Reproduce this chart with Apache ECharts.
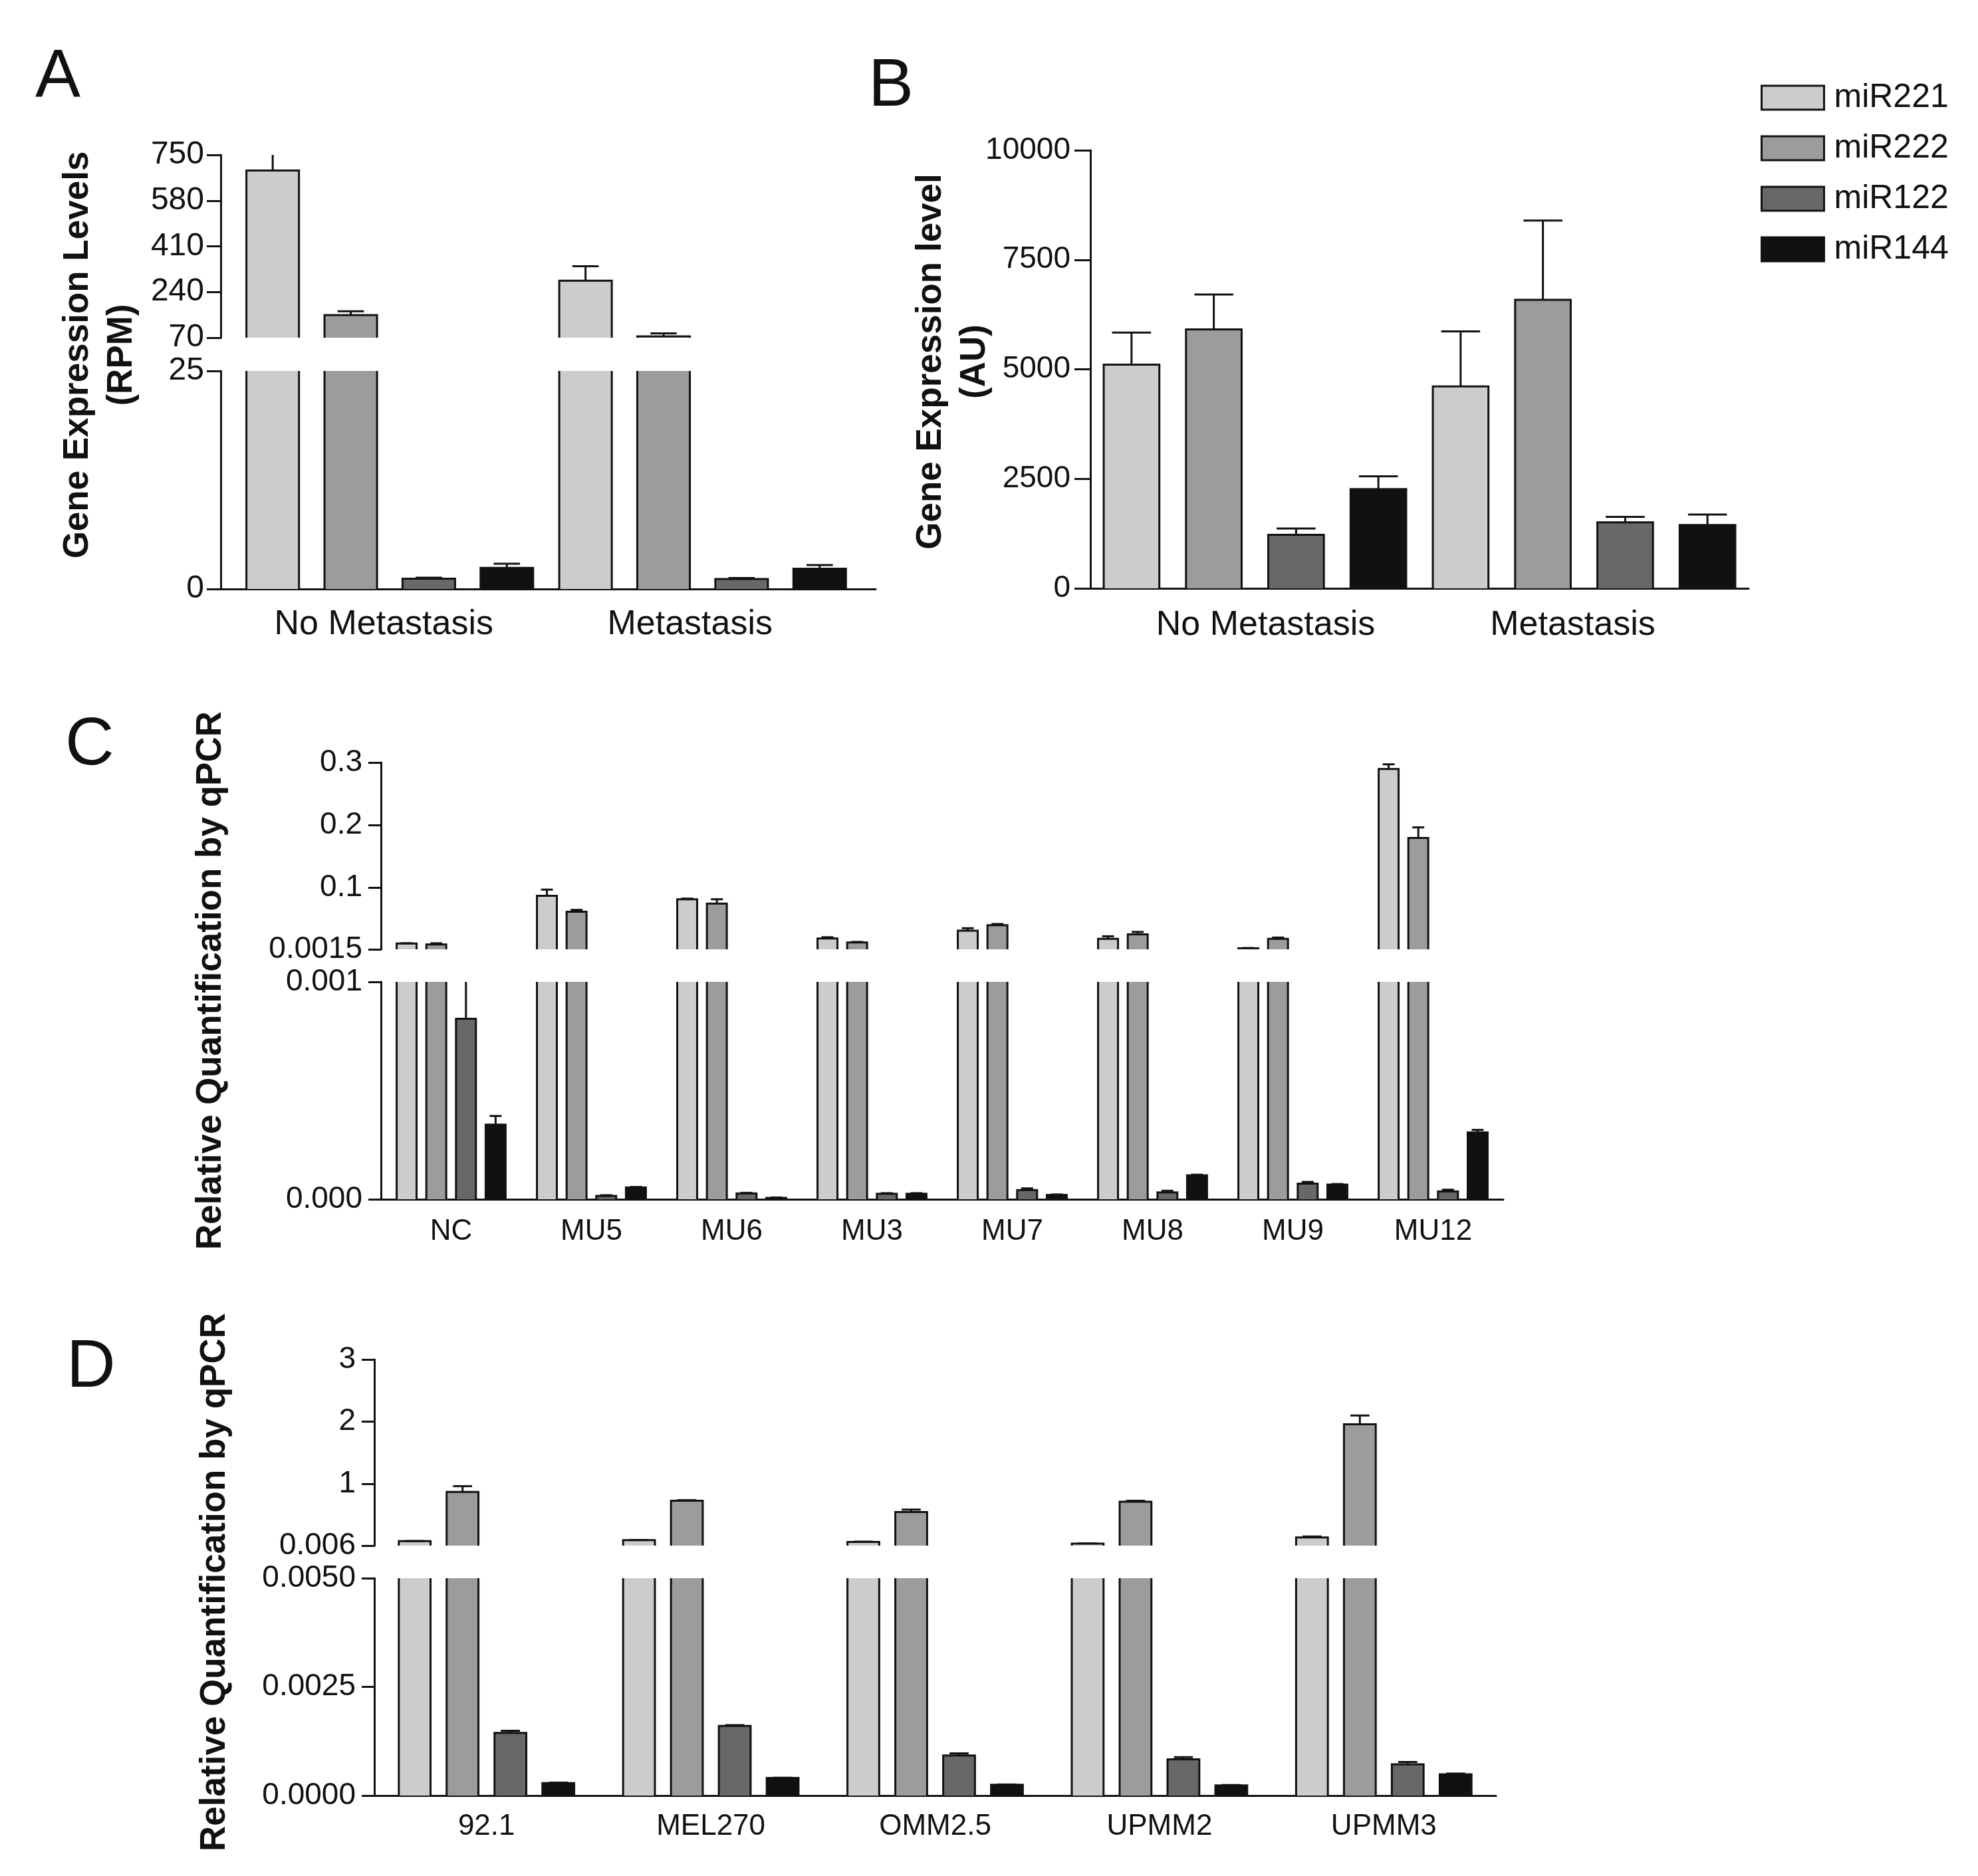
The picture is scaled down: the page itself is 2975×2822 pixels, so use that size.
<!DOCTYPE html>
<html>
<head>
<meta charset="utf-8">
<title>miR221 / miR222 / miR122 / miR144 expression</title>
<script src="https://cdn.jsdelivr.net/npm/echarts@6/dist/echarts.min.js"></script>
<style>
  html, body { margin: 0; padding: 0; background: #fff; }
  #chart { width: 2975px; height: 2822px; }
</style>
</head>
<body>
<div id="chart"></div>
<script>
// series names and fills
const names = ['miR221', 'miR222', 'miR122', 'miR144'];
const colors = ['#cccccc', '#9b9d9c', '#686868', '#111111'];

// categories
const catsA = ['No Metastasis', 'Metastasis'];
const catsB = ['No Metastasis', 'Metastasis'];
const catsC = ['NC', 'MU5', 'MU6', 'MU3', 'MU7', 'MU8', 'MU9', 'MU12'];
const catsD = ['92.1', 'MEL270', 'OMM2.5', 'UPMM2', 'UPMM3'];

// means and error (one row per miRNA, same order as names)
const meanA = [[692, 282], [154, 75], [1.19, 1.15], [2.42, 2.32]];
const errA = [[68, 54], [14, 11], [0.1, 0.1], [0.48, 0.43]];

const meanB = [[5107, 4608], [5909, 6586], [1221, 1506], [2264, 1444]];
const errB = [[730, 1257], [800, 1810], [143, 125], [294, 240]];

const meanC = [
  [0.0107, 0.0869, 0.0815, 0.0188, 0.0312, 0.0183, 0.0031, 0.2896],
  [0.0091, 0.0615, 0.0745, 0.0123, 0.0399, 0.0253, 0.0183, 0.1793],
  [0.00083, 0.0000156, 0.0000265, 0.000025, 0.000042, 0.000031, 0.0000717, 0.0000358],
  [0.000343, 0.0000545, 0.0000062, 0.000025, 0.00002, 0.00011, 0.000067, 0.000307]
];
const errC = [
  [0.0005, 0.010, 0.001, 0.002, 0.004, 0.004, 0.0005, 0.0075],
  [0.002, 0.003, 0.007, 0.001, 0.002, 0.004, 0.002, 0.017],
  [0.0004, 0.000003, 0.000003, 0.000003, 0.000008, 0.000008, 0.000008, 0.000008],
  [0.00004, 0.000002, 0.000002, 0.000003, 0.000002, 0.000003, 0.000003, 0.000012]
];

const meanD = [
  [0.077, 0.093, 0.066, 0.039, 0.137],
  [0.869, 0.727, 0.547, 0.711, 1.957],
  [0.00144, 0.0016, 0.00092, 0.000833, 0.000717],
  [0.000288, 0.000405, 0.00025, 0.000234, 0.00049]
];
const errD = [
  [0.003, 0.003, 0.004, 0.002, 0.016],
  [0.093, 0.01, 0.038, 0.016, 0.142],
  [0.00005, 0.00002, 0.00005, 0.00005, 0.000055],
  [0.00001, 0.000005, 0.000005, 0.000008, 0.000016]
];

// tick labels of each axis segment (upper part above the break, lower part below)
const ticksAUp = [70, 240, 410, 580, 750];
const ticksALow = [0, 25];
const ticksB = [0, 2500, 5000, 7500, 10000];
const ticksCUp = [0.0015, 0.1, 0.2, 0.3];
const ticksCLow = [0, 0.001];
const ticksDUp = [0.006, 1, 2, 3];
const ticksDLow = [0, 0.0025, 0.005];

const FONT = "'Liberation Sans', Arial, Helvetica, sans-serif";
const INK = '#111';

// layout of the four panels (pixels)
const panels = [
  {
    cats: catsA, mean: meanA, err: errA, left: 332, width: 941, extend: 44, shift: 19,
    labelPad: [[0, 0, 0, 20], null],
    pitch: 0.2495, bw: 0.168, cap: 0.5, tickLen: 21, tickFont: 48, catFont: 52, labelMargin: 25, catMargin: 28,
    segs: [
      { top: 233, height: 275, min: 70, max: 750, ticks: ticksAUp },
      { top: 558, height: 328, min: 0, max: 25, ticks: ticksALow }
    ]
  },
  {
    cats: catsB, mean: meanB, err: errB, left: 1640, width: 990,
    labelPad: [[0, 0, 0, 32], [0, 34, 0, 0]],
    pitch: 0.25, bw: 0.169, cap: 0.7, tickLen: 24, tickFont: 46, catFont: 52, labelMargin: 30, catMargin: 30,
    segs: [
      { top: 226, height: 659, min: 0, max: 10000, ticks: ticksB }
    ]
  },
  {
    cats: catsC, mean: meanC, err: errC, left: 573, width: 1688,
    pitch: 0.2115, bw: 0.142, cap: 0.6, tickLen: 19, tickFont: 46, catFont: 44, labelMargin: 28, catMargin: 27,
    segs: [
      { top: 1147, height: 281, min: 0.0015, max: 0.3, ticks: ticksCUp },
      { top: 1477, height: 327, min: 0, max: 0.001, ticks: ticksCLow, dec: 3 }
    ]
  },
  {
    cats: catsD, mean: meanD, err: errD, left: 563, width: 1687,
    pitch: 0.2134, bw: 0.1416, cap: 0.6, tickLen: 19, tickFont: 46, catFont: 44, labelMargin: 28, catMargin: 25,
    segs: [
      { top: 2045, height: 280, min: 0.006, max: 3, ticks: ticksDUp },
      { top: 2374, height: 327, min: 0, max: 0.005, ticks: ticksDLow, dec: 4 }
    ]
  }
];

// one bar + error bar, cut at the edges of its axis segment
function makeRender(p, k) {
  return function (params, api) {
    const cat = api.value(0), v = api.value(1), e = api.value(2);
    const cs = params.coordSys;
    const band = api.size([1, 0])[0];
    const cx = api.coord([cat, v])[0] + (k - 1.5) * p.pitch * band + (p.shift || 0);
    const w = p.bw * band;
    const l = cx - w / 2, r = cx + w / 2;
    const yBottom = cs.y + cs.height;
    let yv = api.coord([cat, v])[1];
    if (yv >= yBottom - 0.5) return null;
    const clipped = yv < cs.y;
    if (clipped) yv = cs.y;

    const lineStyle = { stroke: INK, lineWidth: 3, fill: null };
    const children = [
      { type: 'rect', shape: { x: l, y: yv, width: w, height: yBottom - yv }, style: { fill: colors[k] } }
    ];
    if (clipped) {
      children.push({ type: 'line', shape: { x1: l, y1: yv, x2: l, y2: yBottom }, style: lineStyle });
      children.push({ type: 'line', shape: { x1: r, y1: yv, x2: r, y2: yBottom }, style: lineStyle });
    } else {
      children.push({ type: 'polyline', shape: { points: [[l, yBottom], [l, yv], [r, yv], [r, yBottom]] }, style: lineStyle });
      if (e > 0) {
        let ye = api.coord([cat, v + e])[1];
        const capCut = ye < cs.y;
        if (capCut) ye = cs.y;
        children.push({ type: 'line', shape: { x1: cx, y1: yv, x2: cx, y2: ye }, style: lineStyle });
        if (!capCut) {
          const cw = p.cap * w / 2;
          children.push({ type: 'line', shape: { x1: cx - cw, y1: ye, x2: cx + cw, y2: ye }, style: lineStyle });
        }
      }
    }
    return { type: 'group', children: children };
  };
}

const grid = [], xAxis = [], yAxis = [], series = [];

panels.forEach(function (p) {
  p.segs.forEach(function (seg, si) {
    const gi = grid.length;
    const isLow = si === p.segs.length - 1;
    grid.push({ left: p.left, top: seg.top, width: p.width, height: seg.height });
    xAxis.push({
      type: 'category', gridIndex: gi, show: isLow,
      data: p.cats.map(function (c, i) {
        const pad = p.labelPad && p.labelPad[i];
        return pad ? { value: c, textStyle: { padding: pad } } : c;
      }),
      axisLine: { show: true, lineStyle: { color: INK, width: 3 } },
      axisTick: { show: false },
      axisLabel: { fontSize: p.catFont, color: INK, fontFamily: FONT, margin: p.catMargin },
      splitLine: { show: false }
    });
    yAxis.push({
      type: 'value', gridIndex: gi, min: seg.min, max: seg.max,
      axisLine: { show: true, lineStyle: { color: INK, width: 3 } },
      axisTick: { show: true, length: p.tickLen, lineStyle: { color: INK, width: 3 }, customValues: seg.ticks },
      axisLabel: {
        fontSize: p.tickFont, color: INK, fontFamily: FONT, margin: p.labelMargin,
        customValues: seg.ticks,
        formatter: function (val) { return seg.dec != null ? val.toFixed(seg.dec) : String(val); }
      },
      splitLine: { show: false }
    });
    names.forEach(function (n, k) {
      series.push({
        type: 'custom', name: n, xAxisIndex: gi, yAxisIndex: gi,
        itemStyle: { color: colors[k] },
        renderItem: makeRender(p, k),
        silent: true,
        z: 3,
        data: p.cats.map(function (c, i) { return [i, p.mean[k][i], p.err[k][i]]; })
      });
    });

    // x axis line runs a little past the last category in panel A
    if (isLow && p.extend) {
      const gx = grid.length;
      grid.push({ left: p.left + p.width, top: seg.top, width: p.extend, height: seg.height });
      xAxis.push({
        type: 'category', gridIndex: gx, data: [''],
        axisLine: { show: true, lineStyle: { color: INK, width: 3 } },
        axisTick: { show: false }, axisLabel: { show: false }, splitLine: { show: false }
      });
      yAxis.push({ type: 'value', gridIndex: gx, show: false, min: 0, max: 1, splitLine: { show: false } });
    }
  });
});

function rotatedTitle(x, y, text, lh) {
  return {
    type: 'text', x: x, y: y, rotation: Math.PI / 2, silent: true,
    style: {
      text: text, fontSize: 53, fontWeight: 'bold', fontFamily: FONT, fill: INK,
      textAlign: 'center', textVerticalAlign: 'middle', lineHeight: lh || 60
    }
  };
}
function panelLetter(x, y, text) {
  return {
    type: 'text', x: x, y: y, silent: true,
    style: { text: text, fontSize: 102, fontFamily: FONT, fill: INK, textAlign: 'left', textVerticalAlign: 'middle' }
  };
}

const chart = echarts.init(document.getElementById('chart'));
chart.setOption({
  animation: false,
  backgroundColor: '#fff',
  legend: {
    left: 2648, top: 122, orient: 'vertical', icon: 'rect',
    itemWidth: 94, itemHeight: 36, itemGap: 26, padding: 0, selectedMode: false,
    textStyle: { fontSize: 50, color: INK, fontFamily: FONT, padding: [0, 0, 0, 10] },
    data: names.map(function (n, k) {
      return { name: n, itemStyle: { color: colors[k], borderColor: INK, borderWidth: 3 } };
    })
  },
  grid: grid,
  xAxis: xAxis,
  yAxis: yAxis,
  series: series,
  graphic: [
    panelLetter(53, 118, 'A'),
    panelLetter(1306, 131, 'B'),
    panelLetter(98, 1122, 'C'),
    panelLetter(100, 2058, 'D'),
    rotatedTitle(150, 534, 'Gene Expression Levels\n(RPM)', 66),
    rotatedTitle(1433, 544, 'Gene Expression level\n(AU)', 66),
    rotatedTitle(317, 1475, 'Relative Quantification by qPCR'),
    rotatedTitle(323, 2380, 'Relative Quantification by qPCR')
  ]
});
</script>
</body>
</html>
